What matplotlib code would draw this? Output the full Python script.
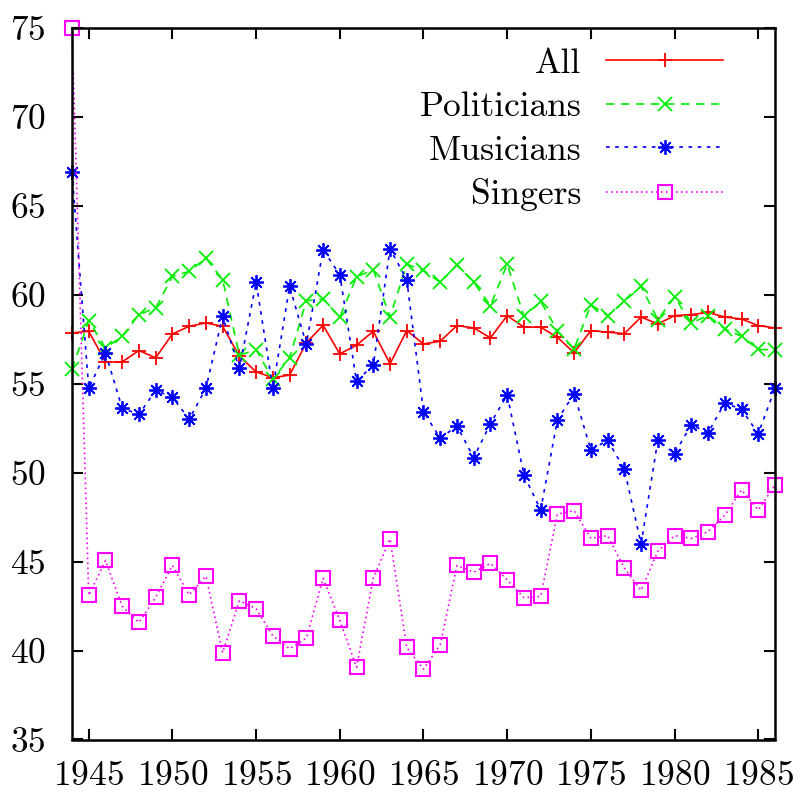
import matplotlib
matplotlib.use("Agg")
import matplotlib.pyplot as plt
import numpy as np

years = list(range(1944, 1987))

all_vals = [57.85, 57.94, 56.22, 56.22, 56.86, 56.45, 57.79, 58.22, 58.41, 58.22,
            56.54, 55.66, 55.33, 55.48, 57.29, 58.28, 56.67, 57.16, 57.94, 56.11,
            57.98, 57.23, 57.38, 58.26, 58.13, 57.57, 58.82, 58.17, 58.17, 57.6,
            56.73, 57.98, 57.89, 57.81, 58.74, 58.35, 58.82, 58.88, 59.0, 58.74,
            58.63, 58.26, 58.13]

politicians = [55.8, 58.54, 57.0, 57.66, 58.88, 59.25, 61.02, 61.3, 62.05, 60.84,
               56.6, 56.9, 55.24, 56.45, 59.66, 59.75, 58.74, 61.0, 61.4, 58.74,
               61.71, 61.36, 60.69, 61.68, 60.69, 59.38, 61.71, 58.78, 59.62, 57.98,
               56.95, 59.44, 58.82, 59.62, 60.46, 58.6, 59.86, 58.41, 58.82, 58.07,
               57.66, 56.92, 56.9]

musicians = [66.87, 54.73, 56.73, 53.61, 53.27, 54.62, 54.24, 53.0, 54.73, 58.78,
             55.85, 60.69, 54.73, 60.46, 57.2, 62.52, 61.12, 55.14, 56.04, 62.57,
             60.84, 53.42, 51.93, 52.62, 50.84, 52.75, 54.36, 49.87, 47.9, 52.96,
             54.43, 51.26, 51.82, 50.19, 45.99, 51.82, 51.07, 52.68, 52.24, 53.92,
             53.55, 52.19, 54.73]

singers = [75.0, 43.1, 45.06, 42.48, 41.58, 42.98, 44.78, 43.13, 44.18, 39.88,
           42.8, 42.35, 40.82, 40.1, 40.7, 44.06, 41.7, 39.06, 44.06, 46.27,
           40.17, 38.95, 40.33, 44.78, 44.4, 44.9, 43.97, 42.97, 43.04, 47.67,
           47.86, 46.3, 46.46, 44.63, 43.38, 45.58, 46.46, 46.3, 46.68, 47.6,
           49.03, 47.9, 49.3]

labels = ["All", "Politicians", "Musicians", "Singers"]

plt.rcParams['font.family'] = ['cmr10', 'DejaVu Serif']
plt.rcParams['axes.formatter.use_mathtext'] = True

fig = plt.figure(figsize=(8.01, 7.96), dpi=100)
ax = fig.add_axes([72 / 801, 1 - 739.5 / 796, (775 - 72) / 801, (739.5 - 27.7) / 796])

ax.plot(years, all_vals, color='#ff0000', lw=1.2, ls='-', marker='+', ms=10, mew=1.3,
        label=labels[0], clip_on=False)
ax.plot(years, politicians, color='#00ee00', lw=1.2, ls=(0, (5, 4)), marker='x', ms=9.5, mew=1.3,
        label=labels[1], clip_on=False)
ax.plot(years, musicians, color='#0000ff', lw=1.2, ls=(0, (2.2, 3.3)), marker=(8, 2, 0), ms=10.5,
        mew=1.3, label=labels[2], clip_on=False)
ax.plot(years, singers, color='#ff00ff', lw=1.2, ls=(0, (1, 2)), marker='s', ms=9.5, mew=1.5,
        mfc='none', label=labels[3], clip_on=False)

ax.set_xlim(1944, 1986)
ax.set_ylim(35, 75)
ax.set_xticks(range(1945, 1986, 5))
ax.set_yticks(range(35, 76, 5))

for s in ax.spines.values():
    s.set_linewidth(1.8)
ax.tick_params(axis='both', direction='in', length=8, width=1.5, labelsize=25.5,
               top=True, right=True)
ax.tick_params(axis='y', pad=19)
ax.tick_params(axis='x', pad=15)

ax.legend(loc='upper right', bbox_to_anchor=(723 / 801, 1 - 48 / 796),
          bbox_transform=fig.transFigure, frameon=False, markerfirst=False,
          numpoints=1, handlelength=3.3, handletextpad=0.7, labelspacing=0.33,
          borderpad=0, borderaxespad=0, fontsize=25.5)

fig.savefig("out.png", dpi=100)
